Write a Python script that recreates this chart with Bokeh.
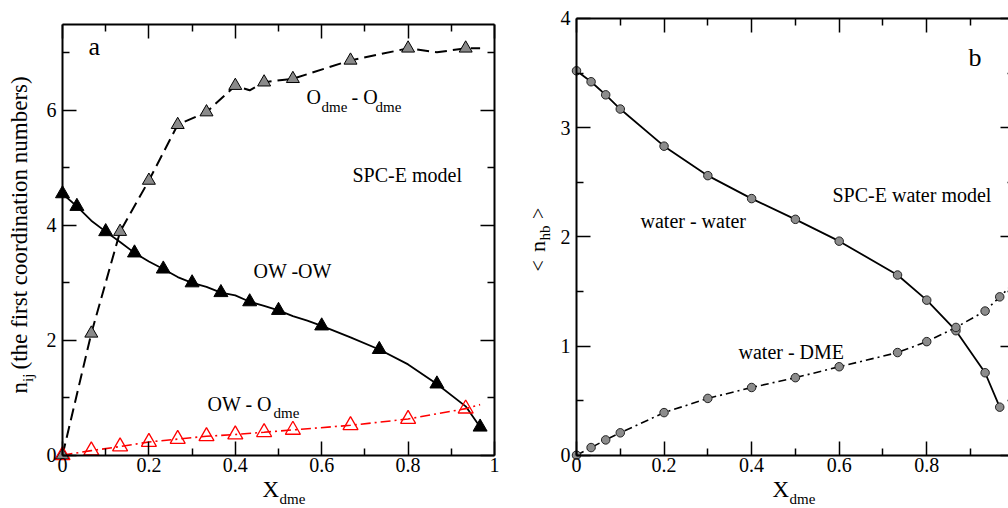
import math
from bokeh.plotting import figure
from bokeh.models import LinearAxis, FixedTicker, CustomJSTickFormatter, Label, Range1d
from bokeh.layouts import row
from bokeh.embed import file_html
from bokeh.resources import INLINE

# ---------------- Panel a data ----------------
# O_dme - O_dme (gray triangles, dashed)
x_odme = [0, 0.0667, 0.1333, 0.2, 0.2667, 0.3333, 0.4, 0.4667, 0.5333, 0.6667, 0.8, 0.9333]
y_odme = [0.0, 2.12, 3.89, 4.78, 5.75, 5.97, 6.43, 6.49, 6.55, 6.87, 7.08, 7.08]
x_odme_line = [0, 0.0667, 0.1333, 0.2, 0.2667, 0.3333, 0.4, 0.4333, 0.4667, 0.5333,
               0.6667, 0.8, 0.8667, 0.9333, 0.9667]
y_odme_line = [0.0, 2.12, 3.89, 4.78, 5.75, 5.97, 6.43, 6.35, 6.49, 6.55,
               6.87, 7.08, 7.01, 7.08, 7.08]

# OW - OW (black triangles, solid)
x_owow = [0, 0.0333, 0.1, 0.1667, 0.2333, 0.3, 0.3667, 0.4333, 0.5, 0.6, 0.7333, 0.8667, 0.9667]
y_owow = [4.55, 4.33, 3.89, 3.52, 3.24, 3.00, 2.83, 2.67, 2.52, 2.25, 1.84, 1.24, 0.49]
x_owow_line = [0, 0.0333, 0.0667, 0.1, 0.1333, 0.1667, 0.2, 0.2333, 0.2667, 0.3, 0.3333,
               0.3667, 0.4, 0.4333, 0.4667, 0.5, 0.5333, 0.5667, 0.6, 0.6667, 0.7333,
               0.8, 0.8667, 0.9333, 0.9667]
y_owow_line = [4.55, 4.33, 4.08, 3.89, 3.71, 3.52, 3.37, 3.24, 3.10, 3.00, 2.93,
               2.83, 2.78, 2.67, 2.60, 2.52, 2.42, 2.34, 2.25, 2.05, 1.84,
               1.58, 1.24, 0.85, 0.49]

# OW - O_dme (red open triangles, dash-dot)
x_owod = [0, 0.0667, 0.1333, 0.2, 0.2667, 0.3333, 0.4, 0.4667, 0.5333, 0.6667, 0.8, 0.9333]
y_owod = [0.0, 0.08, 0.15, 0.23, 0.28, 0.33, 0.36, 0.40, 0.44, 0.52, 0.63, 0.81]
x_owod_line = x_owod + [0.9667]
y_owod_line = y_owod + [0.88]

# ---------------- Panel b data ----------------
x_hb = [0, 0.0333, 0.0667, 0.1, 0.2, 0.3, 0.4, 0.5, 0.6, 0.7333, 0.8, 0.8667, 0.9333, 0.9667]
y_ww = [3.52, 3.42, 3.30, 3.17, 2.83, 2.56, 2.35, 2.16, 1.96, 1.65, 1.42, 1.14, 0.755, 0.44]
y_wd = [0.0, 0.07, 0.14, 0.205, 0.39, 0.52, 0.62, 0.71, 0.81, 0.94, 1.04, 1.17, 1.32, 1.45]
x_wd_line = x_hb + [1.0]
y_wd_line = y_wd + [1.58]

# tick positions
x_major = [0, 0.2, 0.4, 0.6, 0.8, 1.0]
x_minor = [0.1, 0.3, 0.5, 0.7, 0.9]
ya_major = [0, 2, 4, 6]
ya_minor = [1, 3, 5, 7]
yb_major = [0, 1, 2, 3, 4]
yb_minor = [0.5, 1.5, 2.5, 3.5]

# ---------------- layout constants (pixels) ----------------
H = 508
W1, W2 = 524, 484
A_X0, A_XS, A_Y0, A_YS = 62.0, 432.0, 454.7, 57.47
B_X0, B_XS, B_Y0, B_YS = 576.0, 437.8, 454.7, 109.2
BASE_FIX = 0.375   # empirical baseline correction (fraction of font size)

SERIF = "Liberation Serif"
fmt_num = "return String(Math.round(tick*10)/10);"
fmt_none = "return '';"


def add_axis(p, side, major, minor, loc, bounds, show_labels, tick_in=14, minor_in=7):
    ax = LinearAxis(ticker=FixedTicker(ticks=major, minor_ticks=minor),
                    formatter=CustomJSTickFormatter(code=fmt_num if show_labels else fmt_none))
    ax.fixed_location = loc
    ax.bounds = bounds
    ax.axis_line_width = 2
    ax.axis_line_color = "black"
    ax.major_tick_in = tick_in
    ax.major_tick_out = 0
    ax.minor_tick_in = minor_in
    ax.minor_tick_out = 0
    ax.major_tick_line_width = 1.5
    ax.minor_tick_line_width = 1.5
    ax.major_label_text_font = SERIF
    ax.major_label_text_font_size = "20px" if show_labels else "0px"
    ax.major_label_text_color = "black"
    ax.major_label_standoff = (3 if side == "below" else 6) if show_labels else 0
    p.add_layout(ax, side)
    return ax


def make_fig(width, xr, yr):
    p = figure(width=width, height=H, x_range=Range1d(*xr), y_range=Range1d(*yr),
               x_axis_type=None, y_axis_type=None, output_backend="svg",
               toolbar_location=None, title=None,
               min_border_left=0, min_border_right=0, min_border_top=0, min_border_bottom=0)
    p.outline_line_color = None
    p.background_fill_color = "white"
    p.border_fill_color = "white"
    return p


def lab(p, x_off, text, px, py, size=20, angle=0.0):
    d = BASE_FIX * size
    if angle == 0:
        py -= d
    else:
        px -= d
    p.add_layout(Label(x=px - x_off, y=H - py, x_units="screen", y_units="screen", text=text,
                       text_font=SERIF, text_font_size=f"{size}px", text_color="black",
                       text_align="left", text_baseline="alphabetic", angle=angle))


# ---------------- Panel a ----------------
p1 = make_fig(W1,
              ((0 - A_X0) / A_XS, (W1 - A_X0) / A_XS),
              ((A_Y0 - H) / A_YS, A_Y0 / A_YS))

add_axis(p1, "below", x_major, x_minor, 0, (0, 1), True)
add_axis(p1, "above", x_major, x_minor, 7.5, (0, 1), False)
add_axis(p1, "left", ya_major, ya_minor, 0, (0, 7.5), True)
add_axis(p1, "right", ya_major, ya_minor, 1, (0, 7.5), False)

p1.line(x_odme_line, y_odme_line, line_color="black", line_width=2, line_dash="12 6")
p1.line(x_owow_line, y_owow_line, line_color="black", line_width=1.8)
p1.line(x_owod_line, y_owod_line, line_color="red", line_width=1.6, line_dash="10 4 2 4")
p1.scatter(x_odme, y_odme, marker="triangle", size=13, fill_color="#8a8a8a",
           line_color="black", line_width=1)
p1.scatter(x_owow, y_owow, marker="triangle", size=14, fill_color="black",
           line_color="black", line_width=1)
p1.scatter(x_owod, y_owod, marker="triangle", size=15, fill_color=None,
           line_color="red", line_width=1.3)

lab(p1, 0, "a", 88, 56, 26)
lab(p1, 0, "O", 306, 104)
lab(p1, 0, "dme", 321, 112, 15)
lab(p1, 0, "- O", 351, 104)
lab(p1, 0, "dme", 375, 112, 15)
lab(p1, 0, "SPC-E model", 352, 182)
lab(p1, 0, "OW -OW", 253, 278)
lab(p1, 0, "OW - O", 207, 411)
lab(p1, 0, "dme", 273, 418, 15)
lab(p1, 0, "X", 262, 498, 23)
lab(p1, 0, "dme", 279, 504.5, 15)
lab(p1, 0, "n", 28, 393, 23, math.pi / 2)
lab(p1, 0, "ij", 33.5, 381.5, 15, math.pi / 2)
lab(p1, 0, "(the first coordination numbers)", 28, 369, 23, math.pi / 2)

# ---------------- Panel b ----------------
p2 = make_fig(W2,
              ((W1 - B_X0) / B_XS, (W1 + W2 - B_X0) / B_XS),
              ((B_Y0 - H) / B_YS, B_Y0 / B_YS))

add_axis(p2, "below", x_major, x_minor, 0, (0, 1), True)
add_axis(p2, "above", x_major, x_minor, 4, (0, 1), False)
add_axis(p2, "left", yb_major, yb_minor, 0, (0, 4), True)
add_axis(p2, "right", yb_major, yb_minor, 1, (0, 4), False)

p2.line(x_hb, y_ww, line_color="black", line_width=1.8)
p2.line(x_wd_line, y_wd_line, line_color="black", line_width=1.6, line_dash="8 4 2 4")
p2.scatter(x_hb, y_ww, marker="circle", size=8.5, fill_color="#8c8c8c",
           line_color="#222222", line_width=1)
p2.scatter(x_hb, y_wd, marker="circle", size=8.5, fill_color="#8c8c8c",
           line_color="#222222", line_width=1)

lab(p2, W1, "b", 968, 67, 26)
lab(p2, W1, "SPC-E water model", 832, 202)
lab(p2, W1, "water - water", 640, 228)
lab(p2, W1, "water - DME", 738, 359)
lab(p2, W1, "X", 772, 498, 23)
lab(p2, W1, "dme", 789, 504.5, 15)
lab(p2, W1, "<", 545, 271, 20, math.pi / 2)
lab(p2, W1, "n", 545, 251.5, 22, math.pi / 2)
lab(p2, W1, "hb", 550.5, 240, 15, math.pi / 2)
lab(p2, W1, ">", 545, 218.5, 20, math.pi / 2)

layout = row(p1, p2)
open("out.html", "w").write(file_html(layout, INLINE))
